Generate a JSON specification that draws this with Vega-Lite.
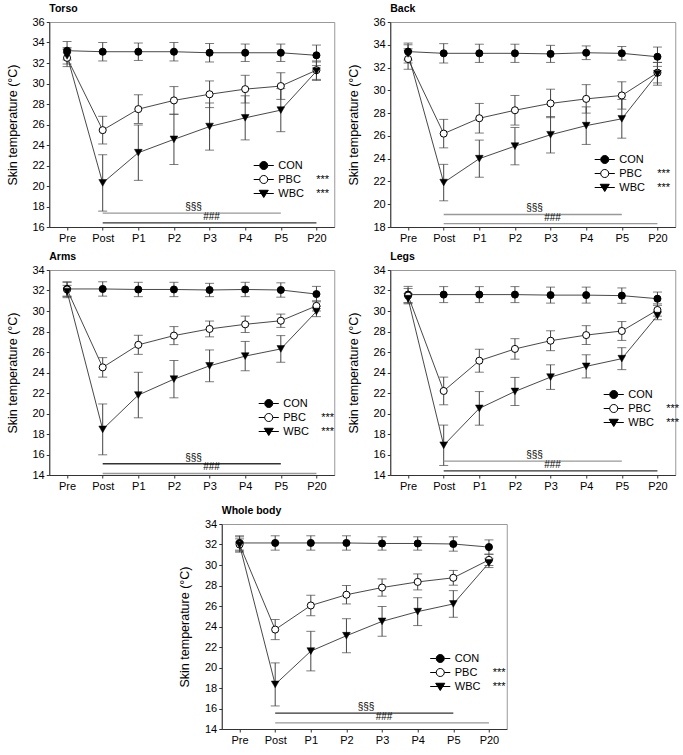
{
"$schema":"https://vega.github.io/schema/vega-lite/v6.json",
"padding":{"left":5,"top":3,"right":5,"bottom":3},
"datasets":{
"skin":[
{"p":"Torso","g":"CON","t":"Pre","m":33.2,"sd":0.9},{"p":"Torso","g":"CON","t":"Post","m":33.1,"sd":0.9},{"p":"Torso","g":"CON","t":"P1","m":33.1,"sd":0.85},{"p":"Torso","g":"CON","t":"P2","m":33.1,"sd":0.9},{"p":"Torso","g":"CON","t":"P3","m":33.0,"sd":0.9},{"p":"Torso","g":"CON","t":"P4","m":33.0,"sd":0.85},{"p":"Torso","g":"CON","t":"P5","m":33.0,"sd":0.85},{"p":"Torso","g":"CON","t":"P20","m":32.75,"sd":1.0},
{"p":"Torso","g":"PBC","t":"Pre","m":32.5,"sd":0.85},{"p":"Torso","g":"PBC","t":"Post","m":25.45,"sd":1.35},{"p":"Torso","g":"PBC","t":"P1","m":27.5,"sd":1.4},{"p":"Torso","g":"PBC","t":"P2","m":28.35,"sd":1.35},{"p":"Torso","g":"PBC","t":"P3","m":28.95,"sd":1.3},{"p":"Torso","g":"PBC","t":"P4","m":29.45,"sd":1.35},{"p":"Torso","g":"PBC","t":"P5","m":29.75,"sd":1.3},{"p":"Torso","g":"PBC","t":"P20","m":31.3,"sd":0.9},
{"p":"Torso","g":"WBC","t":"Pre","m":32.7,"sd":0.8},{"p":"Torso","g":"WBC","t":"Post","m":20.3,"sd":2.75},{"p":"Torso","g":"WBC","t":"P1","m":23.25,"sd":2.7},{"p":"Torso","g":"WBC","t":"P2","m":24.55,"sd":2.45},{"p":"Torso","g":"WBC","t":"P3","m":25.8,"sd":2.3},{"p":"Torso","g":"WBC","t":"P4","m":26.65,"sd":2.15},{"p":"Torso","g":"WBC","t":"P5","m":27.4,"sd":2.1},{"p":"Torso","g":"WBC","t":"P20","m":31.2,"sd":0.9},
{"p":"Back","g":"CON","t":"Pre","m":33.4,"sd":0.75},{"p":"Back","g":"CON","t":"Post","m":33.25,"sd":0.85},{"p":"Back","g":"CON","t":"P1","m":33.25,"sd":0.8},{"p":"Back","g":"CON","t":"P2","m":33.25,"sd":0.8},{"p":"Back","g":"CON","t":"P3","m":33.2,"sd":0.75},{"p":"Back","g":"CON","t":"P4","m":33.3,"sd":0.6},{"p":"Back","g":"CON","t":"P5","m":33.25,"sd":0.6},{"p":"Back","g":"CON","t":"P20","m":32.95,"sd":0.85},
{"p":"Back","g":"PBC","t":"Pre","m":32.75,"sd":0.9},{"p":"Back","g":"PBC","t":"Post","m":26.2,"sd":1.25},{"p":"Back","g":"PBC","t":"P1","m":27.55,"sd":1.3},{"p":"Back","g":"PBC","t":"P2","m":28.25,"sd":1.3},{"p":"Back","g":"PBC","t":"P3","m":28.85,"sd":1.25},{"p":"Back","g":"PBC","t":"P4","m":29.25,"sd":1.25},{"p":"Back","g":"PBC","t":"P5","m":29.55,"sd":1.2},{"p":"Back","g":"PBC","t":"P20","m":31.55,"sd":0.9},
{"p":"Back","g":"WBC","t":"Pre","m":33.2,"sd":0.8},{"p":"Back","g":"WBC","t":"Post","m":21.9,"sd":1.6},{"p":"Back","g":"WBC","t":"P1","m":24.0,"sd":1.63},{"p":"Back","g":"WBC","t":"P2","m":25.1,"sd":1.64},{"p":"Back","g":"WBC","t":"P3","m":26.1,"sd":1.6},{"p":"Back","g":"WBC","t":"P4","m":26.9,"sd":1.65},{"p":"Back","g":"WBC","t":"P5","m":27.5,"sd":1.7},{"p":"Back","g":"WBC","t":"P20","m":31.45,"sd":1.0},
{"p":"Arms","g":"CON","t":"Pre","m":32.15,"sd":0.7},{"p":"Arms","g":"CON","t":"Post","m":32.15,"sd":0.7},{"p":"Arms","g":"CON","t":"P1","m":32.1,"sd":0.7},{"p":"Arms","g":"CON","t":"P2","m":32.1,"sd":0.7},{"p":"Arms","g":"CON","t":"P3","m":32.05,"sd":0.65},{"p":"Arms","g":"CON","t":"P4","m":32.1,"sd":0.7},{"p":"Arms","g":"CON","t":"P5","m":32.05,"sd":0.7},{"p":"Arms","g":"CON","t":"P20","m":31.65,"sd":0.75},
{"p":"Arms","g":"PBC","t":"Pre","m":32.1,"sd":0.7},{"p":"Arms","g":"PBC","t":"Post","m":24.5,"sd":0.95},{"p":"Arms","g":"PBC","t":"P1","m":26.7,"sd":0.93},{"p":"Arms","g":"PBC","t":"P2","m":27.6,"sd":0.88},{"p":"Arms","g":"PBC","t":"P3","m":28.25,"sd":0.77},{"p":"Arms","g":"PBC","t":"P4","m":28.7,"sd":0.8},{"p":"Arms","g":"PBC","t":"P5","m":29.05,"sd":0.65},{"p":"Arms","g":"PBC","t":"P20","m":30.5,"sd":0.5},
{"p":"Arms","g":"WBC","t":"Pre","m":31.9,"sd":0.6},{"p":"Arms","g":"WBC","t":"Post","m":18.45,"sd":2.48},{"p":"Arms","g":"WBC","t":"P1","m":21.8,"sd":2.22},{"p":"Arms","g":"WBC","t":"P2","m":23.35,"sd":1.82},{"p":"Arms","g":"WBC","t":"P3","m":24.65,"sd":1.55},{"p":"Arms","g":"WBC","t":"P4","m":25.6,"sd":1.43},{"p":"Arms","g":"WBC","t":"P5","m":26.3,"sd":1.3},{"p":"Arms","g":"WBC","t":"P20","m":29.95,"sd":0.5},
{"p":"Legs","g":"CON","t":"Pre","m":31.6,"sd":0.8},{"p":"Legs","g":"CON","t":"Post","m":31.6,"sd":0.78},{"p":"Legs","g":"CON","t":"P1","m":31.6,"sd":0.78},{"p":"Legs","g":"CON","t":"P2","m":31.6,"sd":0.78},{"p":"Legs","g":"CON","t":"P3","m":31.55,"sd":0.78},{"p":"Legs","g":"CON","t":"P4","m":31.55,"sd":0.78},{"p":"Legs","g":"CON","t":"P5","m":31.5,"sd":0.75},{"p":"Legs","g":"CON","t":"P20","m":31.2,"sd":0.65},
{"p":"Legs","g":"PBC","t":"Pre","m":31.5,"sd":0.7},{"p":"Legs","g":"PBC","t":"Post","m":22.2,"sd":1.35},{"p":"Legs","g":"PBC","t":"P1","m":25.15,"sd":1.12},{"p":"Legs","g":"PBC","t":"P2","m":26.3,"sd":1.0},{"p":"Legs","g":"PBC","t":"P3","m":27.1,"sd":0.97},{"p":"Legs","g":"PBC","t":"P4","m":27.65,"sd":0.92},{"p":"Legs","g":"PBC","t":"P5","m":28.05,"sd":0.92},{"p":"Legs","g":"PBC","t":"P20","m":30.1,"sd":0.6},
{"p":"Legs","g":"WBC","t":"Pre","m":31.2,"sd":0.5},{"p":"Legs","g":"WBC","t":"Post","m":16.9,"sd":1.97},{"p":"Legs","g":"WBC","t":"P1","m":20.5,"sd":1.64},{"p":"Legs","g":"WBC","t":"P2","m":22.15,"sd":1.37},{"p":"Legs","g":"WBC","t":"P3","m":23.55,"sd":1.2},{"p":"Legs","g":"WBC","t":"P4","m":24.6,"sd":1.13},{"p":"Legs","g":"WBC","t":"P5","m":25.35,"sd":1.07},{"p":"Legs","g":"WBC","t":"P20","m":29.55,"sd":0.4},
{"p":"Whole body","g":"CON","t":"Pre","m":32.15,"sd":0.7},{"p":"Whole body","g":"CON","t":"Post","m":32.15,"sd":0.7},{"p":"Whole body","g":"CON","t":"P1","m":32.15,"sd":0.7},{"p":"Whole body","g":"CON","t":"P2","m":32.15,"sd":0.7},{"p":"Whole body","g":"CON","t":"P3","m":32.1,"sd":0.65},{"p":"Whole body","g":"CON","t":"P4","m":32.1,"sd":0.65},{"p":"Whole body","g":"CON","t":"P5","m":32.05,"sd":0.7},{"p":"Whole body","g":"CON","t":"P20","m":31.75,"sd":0.7},
{"p":"Whole body","g":"PBC","t":"Pre","m":32.0,"sd":0.75},{"p":"Whole body","g":"PBC","t":"Post","m":23.7,"sd":0.98},{"p":"Whole body","g":"PBC","t":"P1","m":26.05,"sd":1.0},{"p":"Whole body","g":"PBC","t":"P2","m":27.1,"sd":0.9},{"p":"Whole body","g":"PBC","t":"P3","m":27.8,"sd":0.84},{"p":"Whole body","g":"PBC","t":"P4","m":28.35,"sd":0.78},{"p":"Whole body","g":"PBC","t":"P5","m":28.75,"sd":0.72},{"p":"Whole body","g":"PBC","t":"P20","m":30.5,"sd":0.55},
{"p":"Whole body","g":"WBC","t":"Pre","m":31.95,"sd":0.6},{"p":"Whole body","g":"WBC","t":"Post","m":18.35,"sd":2.1},{"p":"Whole body","g":"WBC","t":"P1","m":21.6,"sd":1.93},{"p":"Whole body","g":"WBC","t":"P2","m":23.1,"sd":1.66},{"p":"Whole body","g":"WBC","t":"P3","m":24.5,"sd":1.45},{"p":"Whole body","g":"WBC","t":"P4","m":25.45,"sd":1.36},{"p":"Whole body","g":"WBC","t":"P5","m":26.2,"sd":1.3},{"p":"Whole body","g":"WBC","t":"P20","m":30.2,"sd":0.45}
],
"sig":[
{"p":"Torso","lab":"§§§","start":"Post","end":"P5","lvl":17.35},{"p":"Torso","lab":"###","start":"Post","end":"P20","lvl":16.4},
{"p":"Back","lab":"§§§","start":"Post","end":"P5","lvl":19.1},{"p":"Back","lab":"###","start":"Post","end":"P20","lvl":18.3},
{"p":"Arms","lab":"§§§","start":"Post","end":"P5","lvl":15.1},{"p":"Arms","lab":"###","start":"Post","end":"P20","lvl":14.15},
{"p":"Legs","lab":"§§§","start":"Post","end":"P5","lvl":15.35},{"p":"Legs","lab":"###","start":"Post","end":"P20","lvl":14.4},
{"p":"Whole body","lab":"§§§","start":"Post","end":"P5","lvl":15.55},{"p":"Whole body","lab":"###","start":"Post","end":"P20","lvl":14.6}
]
},
"spacing":13,
"center":true,
"resolve":{"scale":{"shape":"independent","fill":"independent","stroke":"independent","color":"independent"},"legend":{"shape":"independent","fill":"independent","stroke":"independent"}},
"vconcat":[
{"spacing":7,
 "resolve":{"scale":{"shape":"independent","fill":"independent","stroke":"independent","color":"independent"},"legend":{"shape":"independent","fill":"independent","stroke":"independent"}},
 "vconcat":[
{"hconcat":[
{"title":"Torso","width":285,"height":205,"layer":[
 {"data":{"name":"skin"},"transform":[{"filter":"datum.p == 'Torso'"}],
  "encoding":{"x":{"field":"t","type":"ordinal","scale":{"type":"point","domain":["Pre","Post","P1","P2","P3","P4","P5","P20"],"padding":0.5},"title":null},
   "y":{"field":"m","type":"quantitative","scale":{"domain":[16,36],"nice":false,"zero":false},"axis":{"values":[16,18,20,22,24,26,28,30,32,34,36]},"title":"Skin temperature (°C)"}},
  "layer":[
   {"mark":{"type":"errorbar","ticks":{"size":9,"color":"#444"},"rule":{"color":"#444","strokeWidth":1}},"encoding":{"yError":{"field":"sd"}}},
   {"mark":{"type":"line","color":"#333","strokeWidth":0.9},"encoding":{"detail":{"field":"g"},"order":{"value":null}}},
   {"transform":[{"filter":"datum.g == 'CON'"}],"mark":{"type":"point","shape":"circle","size":50,"filled":true,"fill":"#000","stroke":"#000","strokeWidth":1,"opacity":1}},
   {"transform":[{"filter":"datum.g == 'PBC'"}],"mark":{"type":"point","shape":"circle","size":50,"filled":true,"fill":"#fff","stroke":"#000","strokeWidth":1,"opacity":1}},
   {"transform":[{"filter":"datum.g == 'WBC'"}],"mark":{"type":"point","shape":"triangle-down","size":60,"filled":true,"fill":"#000","stroke":"#000","strokeWidth":0.5,"opacity":1}},
   {"transform":[{"filter":"false"}],"mark":{"type":"point","filled":true,"strokeWidth":1,"opacity":1},
    "encoding":{"shape":{"field":"g","type":"nominal","scale":{"domain":["CON","PBC","WBC"],"range":["M-1.5,0L-0.6,0M0.6,0L1.5,0M0.6,0A0.6,0.6,0,1,1,-0.6,0A0.6,0.6,0,1,1,0.6,0Z","M-1.5,0L-0.6,0M0.6,0L1.5,0M0.6,0A0.6,0.6,0,1,1,-0.6,0A0.6,0.6,0,1,1,0.6,0Z","M-1.5,0L1.5,0M-0.68,-0.48L0.68,-0.48L0,0.6Z"]},"legend":{"orient":"none","legendX":207,"legendY":136,"labelExpr":"datum.label == 'PBC' ? 'PBC\u00a0\u00a0\u00a0\u00a0\u00a0***' : datum.label == 'WBC' ? 'WBC\u00a0\u00a0\u00a0\u00a0***' : datum.label"}},
     "fill":{"field":"g","type":"nominal","scale":{"domain":["CON","PBC","WBC"],"range":["#000","#fff","#000"]},"legend":{"orient":"none","legendX":207,"legendY":136,"labelExpr":"datum.label == 'PBC' ? 'PBC\u00a0\u00a0\u00a0\u00a0\u00a0***' : datum.label == 'WBC' ? 'WBC\u00a0\u00a0\u00a0\u00a0***' : datum.label"}},
     "stroke":{"field":"g","type":"nominal","scale":{"domain":["CON","PBC","WBC"],"range":["#000","#000","#000"]},"legend":{"orient":"none","legendX":207,"legendY":136,"labelExpr":"datum.label == 'PBC' ? 'PBC\u00a0\u00a0\u00a0\u00a0\u00a0***' : datum.label == 'WBC' ? 'WBC\u00a0\u00a0\u00a0\u00a0***' : datum.label"}}}}
  ]},
 {"data":{"name":"sig"},"transform":[{"filter":"datum.p == 'Torso'"}],
  "encoding":{"x":{"field":"start","type":"ordinal","title":null},"y":{"field":"lvl","type":"quantitative","axis":{"values":[16,18,20,22,24,26,28,30,32,34,36]},"title":"Skin temperature (°C)"}},
  "layer":[
   {"mark":{"type":"rule","strokeWidth":1.4},"encoding":{"x2":{"field":"end"},"color":{"field":"lab","type":"nominal","scale":{"domain":["§§§","###"],"range":["#999","#333"]},"legend":null}}},
   {"transform":[{"filter":"datum.lab == '§§§'"}],"mark":{"type":"text","dx":-16,"dy":-3,"baseline":"alphabetic","fontSize":10,"color":"#000"},"encoding":{"x":{"datum":"P3","type":"ordinal"},"text":{"field":"lab"}}},
   {"transform":[{"filter":"datum.lab == '###'"}],"mark":{"type":"text","dx":2,"dy":-3,"baseline":"alphabetic","fontSize":10,"color":"#000"},"encoding":{"x":{"datum":"P3","type":"ordinal"},"text":{"field":"lab"}}}
  ]}
]},
{"title":"Back","width":285,"height":205,"layer":[
 {"data":{"name":"skin"},"transform":[{"filter":"datum.p == 'Back'"}],
  "encoding":{"x":{"field":"t","type":"ordinal","scale":{"type":"point","domain":["Pre","Post","P1","P2","P3","P4","P5","P20"],"padding":0.5},"title":null},
   "y":{"field":"m","type":"quantitative","scale":{"domain":[18,36],"nice":false,"zero":false},"axis":{"values":[18,20,22,24,26,28,30,32,34,36]},"title":"Skin temperature (°C)"}},
  "layer":[
   {"mark":{"type":"errorbar","ticks":{"size":9,"color":"#444"},"rule":{"color":"#444","strokeWidth":1}},"encoding":{"yError":{"field":"sd"}}},
   {"mark":{"type":"line","color":"#333","strokeWidth":0.9},"encoding":{"detail":{"field":"g"},"order":{"value":null}}},
   {"transform":[{"filter":"datum.g == 'CON'"}],"mark":{"type":"point","shape":"circle","size":50,"filled":true,"fill":"#000","stroke":"#000","strokeWidth":1,"opacity":1}},
   {"transform":[{"filter":"datum.g == 'PBC'"}],"mark":{"type":"point","shape":"circle","size":50,"filled":true,"fill":"#fff","stroke":"#000","strokeWidth":1,"opacity":1}},
   {"transform":[{"filter":"datum.g == 'WBC'"}],"mark":{"type":"point","shape":"triangle-down","size":60,"filled":true,"fill":"#000","stroke":"#000","strokeWidth":0.5,"opacity":1}},
   {"transform":[{"filter":"false"}],"mark":{"type":"point","filled":true,"strokeWidth":1,"opacity":1},
    "encoding":{"shape":{"field":"g","type":"nominal","scale":{"domain":["CON","PBC","WBC"],"range":["M-1.5,0L-0.6,0M0.6,0L1.5,0M0.6,0A0.6,0.6,0,1,1,-0.6,0A0.6,0.6,0,1,1,0.6,0Z","M-1.5,0L-0.6,0M0.6,0L1.5,0M0.6,0A0.6,0.6,0,1,1,-0.6,0A0.6,0.6,0,1,1,0.6,0Z","M-1.5,0L1.5,0M-0.68,-0.48L0.68,-0.48L0,0.6Z"]},"legend":{"orient":"none","legendX":207,"legendY":130,"labelExpr":"datum.label == 'PBC' ? 'PBC\u00a0\u00a0\u00a0\u00a0\u00a0***' : datum.label == 'WBC' ? 'WBC\u00a0\u00a0\u00a0\u00a0***' : datum.label"}},
     "fill":{"field":"g","type":"nominal","scale":{"domain":["CON","PBC","WBC"],"range":["#000","#fff","#000"]},"legend":{"orient":"none","legendX":207,"legendY":130,"labelExpr":"datum.label == 'PBC' ? 'PBC\u00a0\u00a0\u00a0\u00a0\u00a0***' : datum.label == 'WBC' ? 'WBC\u00a0\u00a0\u00a0\u00a0***' : datum.label"}},
     "stroke":{"field":"g","type":"nominal","scale":{"domain":["CON","PBC","WBC"],"range":["#000","#000","#000"]},"legend":{"orient":"none","legendX":207,"legendY":130,"labelExpr":"datum.label == 'PBC' ? 'PBC\u00a0\u00a0\u00a0\u00a0\u00a0***' : datum.label == 'WBC' ? 'WBC\u00a0\u00a0\u00a0\u00a0***' : datum.label"}}}}
  ]},
 {"data":{"name":"sig"},"transform":[{"filter":"datum.p == 'Back'"}],
  "encoding":{"x":{"field":"start","type":"ordinal","title":null},"y":{"field":"lvl","type":"quantitative","axis":{"values":[18,20,22,24,26,28,30,32,34,36]},"title":"Skin temperature (°C)"}},
  "layer":[
   {"mark":{"type":"rule","strokeWidth":1.4},"encoding":{"x2":{"field":"end"},"color":{"field":"lab","type":"nominal","scale":{"domain":["§§§","###"],"range":["#999","#999"]},"legend":null}}},
   {"transform":[{"filter":"datum.lab == '§§§'"}],"mark":{"type":"text","dx":-16,"dy":-3,"baseline":"alphabetic","fontSize":10,"color":"#000"},"encoding":{"x":{"datum":"P3","type":"ordinal"},"text":{"field":"lab"}}},
   {"transform":[{"filter":"datum.lab == '###'"}],"mark":{"type":"text","dx":2,"dy":-3,"baseline":"alphabetic","fontSize":10,"color":"#000"},"encoding":{"x":{"datum":"P3","type":"ordinal"},"text":{"field":"lab"}}}
  ]}
]}
],"spacing":11,"resolve":{"scale":{"shape":"independent","fill":"independent","stroke":"independent","color":"independent"},"legend":{"shape":"independent","fill":"independent","stroke":"independent"}}},
{"hconcat":[
{"title":"Arms","width":285,"height":205,"layer":[
 {"data":{"name":"skin"},"transform":[{"filter":"datum.p == 'Arms'"}],
  "encoding":{"x":{"field":"t","type":"ordinal","scale":{"type":"point","domain":["Pre","Post","P1","P2","P3","P4","P5","P20"],"padding":0.5},"title":null},
   "y":{"field":"m","type":"quantitative","scale":{"domain":[14,34],"nice":false,"zero":false},"axis":{"values":[14,16,18,20,22,24,26,28,30,32,34]},"title":"Skin temperature (°C)"}},
  "layer":[
   {"mark":{"type":"errorbar","ticks":{"size":9,"color":"#444"},"rule":{"color":"#444","strokeWidth":1}},"encoding":{"yError":{"field":"sd"}}},
   {"mark":{"type":"line","color":"#333","strokeWidth":0.9},"encoding":{"detail":{"field":"g"},"order":{"value":null}}},
   {"transform":[{"filter":"datum.g == 'CON'"}],"mark":{"type":"point","shape":"circle","size":50,"filled":true,"fill":"#000","stroke":"#000","strokeWidth":1,"opacity":1}},
   {"transform":[{"filter":"datum.g == 'PBC'"}],"mark":{"type":"point","shape":"circle","size":50,"filled":true,"fill":"#fff","stroke":"#000","strokeWidth":1,"opacity":1}},
   {"transform":[{"filter":"datum.g == 'WBC'"}],"mark":{"type":"point","shape":"triangle-down","size":60,"filled":true,"fill":"#000","stroke":"#000","strokeWidth":0.5,"opacity":1}},
   {"transform":[{"filter":"false"}],"mark":{"type":"point","filled":true,"strokeWidth":1,"opacity":1},
    "encoding":{"shape":{"field":"g","type":"nominal","scale":{"domain":["CON","PBC","WBC"],"range":["M-1.5,0L-0.6,0M0.6,0L1.5,0M0.6,0A0.6,0.6,0,1,1,-0.6,0A0.6,0.6,0,1,1,0.6,0Z","M-1.5,0L-0.6,0M0.6,0L1.5,0M0.6,0A0.6,0.6,0,1,1,-0.6,0A0.6,0.6,0,1,1,0.6,0Z","M-1.5,0L1.5,0M-0.68,-0.48L0.68,-0.48L0,0.6Z"]},"legend":{"orient":"none","legendX":212,"legendY":126,"labelExpr":"datum.label == 'PBC' ? 'PBC\u00a0\u00a0\u00a0\u00a0\u00a0***' : datum.label == 'WBC' ? 'WBC\u00a0\u00a0\u00a0\u00a0***' : datum.label"}},
     "fill":{"field":"g","type":"nominal","scale":{"domain":["CON","PBC","WBC"],"range":["#000","#fff","#000"]},"legend":{"orient":"none","legendX":212,"legendY":126,"labelExpr":"datum.label == 'PBC' ? 'PBC\u00a0\u00a0\u00a0\u00a0\u00a0***' : datum.label == 'WBC' ? 'WBC\u00a0\u00a0\u00a0\u00a0***' : datum.label"}},
     "stroke":{"field":"g","type":"nominal","scale":{"domain":["CON","PBC","WBC"],"range":["#000","#000","#000"]},"legend":{"orient":"none","legendX":212,"legendY":126,"labelExpr":"datum.label == 'PBC' ? 'PBC\u00a0\u00a0\u00a0\u00a0\u00a0***' : datum.label == 'WBC' ? 'WBC\u00a0\u00a0\u00a0\u00a0***' : datum.label"}}}}
  ]},
 {"data":{"name":"sig"},"transform":[{"filter":"datum.p == 'Arms'"}],
  "encoding":{"x":{"field":"start","type":"ordinal","title":null},"y":{"field":"lvl","type":"quantitative","axis":{"values":[14,16,18,20,22,24,26,28,30,32,34]},"title":"Skin temperature (°C)"}},
  "layer":[
   {"mark":{"type":"rule","strokeWidth":1.4},"encoding":{"x2":{"field":"end"},"color":{"field":"lab","type":"nominal","scale":{"domain":["§§§","###"],"range":["#333","#999"]},"legend":null}}},
   {"transform":[{"filter":"datum.lab == '§§§'"}],"mark":{"type":"text","dx":-16,"dy":-3,"baseline":"alphabetic","fontSize":10,"color":"#000"},"encoding":{"x":{"datum":"P3","type":"ordinal"},"text":{"field":"lab"}}},
   {"transform":[{"filter":"datum.lab == '###'"}],"mark":{"type":"text","dx":2,"dy":-3,"baseline":"alphabetic","fontSize":10,"color":"#000"},"encoding":{"x":{"datum":"P3","type":"ordinal"},"text":{"field":"lab"}}}
  ]}
]},
{"title":"Legs","width":285,"height":205,"layer":[
 {"data":{"name":"skin"},"transform":[{"filter":"datum.p == 'Legs'"}],
  "encoding":{"x":{"field":"t","type":"ordinal","scale":{"type":"point","domain":["Pre","Post","P1","P2","P3","P4","P5","P20"],"padding":0.5},"title":null},
   "y":{"field":"m","type":"quantitative","scale":{"domain":[14,34],"nice":false,"zero":false},"axis":{"values":[14,16,18,20,22,24,26,28,30,32,34]},"title":"Skin temperature (°C)"}},
  "layer":[
   {"mark":{"type":"errorbar","ticks":{"size":9,"color":"#444"},"rule":{"color":"#444","strokeWidth":1}},"encoding":{"yError":{"field":"sd"}}},
   {"mark":{"type":"line","color":"#333","strokeWidth":0.9},"encoding":{"detail":{"field":"g"},"order":{"value":null}}},
   {"transform":[{"filter":"datum.g == 'CON'"}],"mark":{"type":"point","shape":"circle","size":50,"filled":true,"fill":"#000","stroke":"#000","strokeWidth":1,"opacity":1}},
   {"transform":[{"filter":"datum.g == 'PBC'"}],"mark":{"type":"point","shape":"circle","size":50,"filled":true,"fill":"#fff","stroke":"#000","strokeWidth":1,"opacity":1}},
   {"transform":[{"filter":"datum.g == 'WBC'"}],"mark":{"type":"point","shape":"triangle-down","size":60,"filled":true,"fill":"#000","stroke":"#000","strokeWidth":0.5,"opacity":1}},
   {"transform":[{"filter":"false"}],"mark":{"type":"point","filled":true,"strokeWidth":1,"opacity":1},
    "encoding":{"shape":{"field":"g","type":"nominal","scale":{"domain":["CON","PBC","WBC"],"range":["M-1.5,0L-0.6,0M0.6,0L1.5,0M0.6,0A0.6,0.6,0,1,1,-0.6,0A0.6,0.6,0,1,1,0.6,0Z","M-1.5,0L-0.6,0M0.6,0L1.5,0M0.6,0A0.6,0.6,0,1,1,-0.6,0A0.6,0.6,0,1,1,0.6,0Z","M-1.5,0L1.5,0M-0.68,-0.48L0.68,-0.48L0,0.6Z"]},"legend":{"orient":"none","legendX":216,"legendY":117,"labelExpr":"datum.label == 'PBC' ? 'PBC\u00a0\u00a0\u00a0\u00a0\u00a0***' : datum.label == 'WBC' ? 'WBC\u00a0\u00a0\u00a0\u00a0***' : datum.label"}},
     "fill":{"field":"g","type":"nominal","scale":{"domain":["CON","PBC","WBC"],"range":["#000","#fff","#000"]},"legend":{"orient":"none","legendX":216,"legendY":117,"labelExpr":"datum.label == 'PBC' ? 'PBC\u00a0\u00a0\u00a0\u00a0\u00a0***' : datum.label == 'WBC' ? 'WBC\u00a0\u00a0\u00a0\u00a0***' : datum.label"}},
     "stroke":{"field":"g","type":"nominal","scale":{"domain":["CON","PBC","WBC"],"range":["#000","#000","#000"]},"legend":{"orient":"none","legendX":216,"legendY":117,"labelExpr":"datum.label == 'PBC' ? 'PBC\u00a0\u00a0\u00a0\u00a0\u00a0***' : datum.label == 'WBC' ? 'WBC\u00a0\u00a0\u00a0\u00a0***' : datum.label"}}}}
  ]},
 {"data":{"name":"sig"},"transform":[{"filter":"datum.p == 'Legs'"}],
  "encoding":{"x":{"field":"start","type":"ordinal","title":null},"y":{"field":"lvl","type":"quantitative","axis":{"values":[14,16,18,20,22,24,26,28,30,32,34]},"title":"Skin temperature (°C)"}},
  "layer":[
   {"mark":{"type":"rule","strokeWidth":1.4},"encoding":{"x2":{"field":"end"},"color":{"field":"lab","type":"nominal","scale":{"domain":["§§§","###"],"range":["#999","#333"]},"legend":null}}},
   {"transform":[{"filter":"datum.lab == '§§§'"}],"mark":{"type":"text","dx":-16,"dy":-3,"baseline":"alphabetic","fontSize":10,"color":"#000"},"encoding":{"x":{"datum":"P3","type":"ordinal"},"text":{"field":"lab"}}},
   {"transform":[{"filter":"datum.lab == '###'"}],"mark":{"type":"text","dx":2,"dy":-3,"baseline":"alphabetic","fontSize":10,"color":"#000"},"encoding":{"x":{"datum":"P3","type":"ordinal"},"text":{"field":"lab"}}}
  ]}
]}
],"spacing":11,"resolve":{"scale":{"shape":"independent","fill":"independent","stroke":"independent","color":"independent"},"legend":{"shape":"independent","fill":"independent","stroke":"independent"}}}
]},
{"title":"Whole body","width":285,"height":205,"layer":[
 {"data":{"name":"skin"},"transform":[{"filter":"datum.p == 'Whole body'"}],
  "encoding":{"x":{"field":"t","type":"ordinal","scale":{"type":"point","domain":["Pre","Post","P1","P2","P3","P4","P5","P20"],"padding":0.5},"title":null},
   "y":{"field":"m","type":"quantitative","scale":{"domain":[14,34],"nice":false,"zero":false},"axis":{"values":[14,16,18,20,22,24,26,28,30,32,34]},"title":"Skin temperature (°C)"}},
  "layer":[
   {"mark":{"type":"errorbar","ticks":{"size":9,"color":"#444"},"rule":{"color":"#444","strokeWidth":1}},"encoding":{"yError":{"field":"sd"}}},
   {"mark":{"type":"line","color":"#333","strokeWidth":0.9},"encoding":{"detail":{"field":"g"},"order":{"value":null}}},
   {"transform":[{"filter":"datum.g == 'CON'"}],"mark":{"type":"point","shape":"circle","size":50,"filled":true,"fill":"#000","stroke":"#000","strokeWidth":1,"opacity":1}},
   {"transform":[{"filter":"datum.g == 'PBC'"}],"mark":{"type":"point","shape":"circle","size":50,"filled":true,"fill":"#fff","stroke":"#000","strokeWidth":1,"opacity":1}},
   {"transform":[{"filter":"datum.g == 'WBC'"}],"mark":{"type":"point","shape":"triangle-down","size":60,"filled":true,"fill":"#000","stroke":"#000","strokeWidth":0.5,"opacity":1}},
   {"transform":[{"filter":"false"}],"mark":{"type":"point","filled":true,"strokeWidth":1,"opacity":1},
    "encoding":{"shape":{"field":"g","type":"nominal","scale":{"domain":["CON","PBC","WBC"],"range":["M-1.5,0L-0.6,0M0.6,0L1.5,0M0.6,0A0.6,0.6,0,1,1,-0.6,0A0.6,0.6,0,1,1,0.6,0Z","M-1.5,0L-0.6,0M0.6,0L1.5,0M0.6,0A0.6,0.6,0,1,1,-0.6,0A0.6,0.6,0,1,1,0.6,0Z","M-1.5,0L1.5,0M-0.68,-0.48L0.68,-0.48L0,0.6Z"]},"legend":{"orient":"none","legendX":211,"legendY":127,"labelExpr":"datum.label == 'PBC' ? 'PBC\u00a0\u00a0\u00a0\u00a0\u00a0***' : datum.label == 'WBC' ? 'WBC\u00a0\u00a0\u00a0\u00a0***' : datum.label"}},
     "fill":{"field":"g","type":"nominal","scale":{"domain":["CON","PBC","WBC"],"range":["#000","#fff","#000"]},"legend":{"orient":"none","legendX":211,"legendY":127,"labelExpr":"datum.label == 'PBC' ? 'PBC\u00a0\u00a0\u00a0\u00a0\u00a0***' : datum.label == 'WBC' ? 'WBC\u00a0\u00a0\u00a0\u00a0***' : datum.label"}},
     "stroke":{"field":"g","type":"nominal","scale":{"domain":["CON","PBC","WBC"],"range":["#000","#000","#000"]},"legend":{"orient":"none","legendX":211,"legendY":127,"labelExpr":"datum.label == 'PBC' ? 'PBC\u00a0\u00a0\u00a0\u00a0\u00a0***' : datum.label == 'WBC' ? 'WBC\u00a0\u00a0\u00a0\u00a0***' : datum.label"}}}}
  ]},
 {"data":{"name":"sig"},"transform":[{"filter":"datum.p == 'Whole body'"}],
  "encoding":{"x":{"field":"start","type":"ordinal","title":null},"y":{"field":"lvl","type":"quantitative","axis":{"values":[14,16,18,20,22,24,26,28,30,32,34]},"title":"Skin temperature (°C)"}},
  "layer":[
   {"mark":{"type":"rule","strokeWidth":1.4},"encoding":{"x2":{"field":"end"},"color":{"field":"lab","type":"nominal","scale":{"domain":["§§§","###"],"range":["#333","#999"]},"legend":null}}},
   {"transform":[{"filter":"datum.lab == '§§§'"}],"mark":{"type":"text","dx":-16,"dy":-3,"baseline":"alphabetic","fontSize":10,"color":"#000"},"encoding":{"x":{"datum":"P3","type":"ordinal"},"text":{"field":"lab"}}},
   {"transform":[{"filter":"datum.lab == '###'"}],"mark":{"type":"text","dx":2,"dy":-3,"baseline":"alphabetic","fontSize":10,"color":"#000"},"encoding":{"x":{"datum":"P3","type":"ordinal"},"text":{"field":"lab"}}}
  ]}
]}
],
"config":{
 "font":"Liberation Sans",
 "view":{"stroke":"#999","strokeWidth":1},
 "axis":{"domainColor":"#333","tickColor":"#333","labelColor":"#000","titleColor":"#000","labelFontSize":11,"titleFontSize":12.5,"titleFontWeight":"normal","tickSize":3,"labelPadding":2,"grid":false,"labelOverlap":false,"labelFont":"Liberation Sans","titleFont":"Liberation Sans"},
 "axisY":{"titlePadding":13},
 "axisX":{"labelAngle":0},
 "title":{"anchor":"start","frame":"group","fontSize":10.5,"fontWeight":"bold","offset":2,"font":"Liberation Sans","color":"#000"},
 "legend":{"title":null,"symbolSize":180,"symbolStrokeWidth":1,"labelFontSize":11,"labelFont":"Liberation Sans","labelColor":"#000","rowPadding":0,"padding":0,"labelOffset":7}
}
}
